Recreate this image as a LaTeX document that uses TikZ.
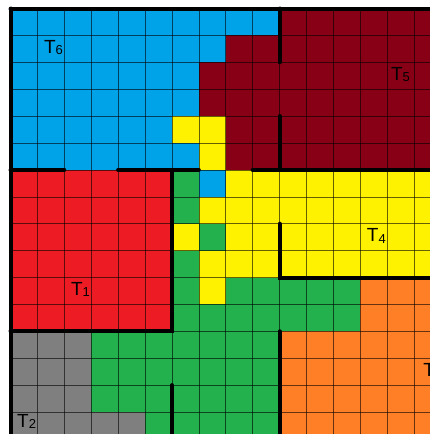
\documentclass[tikz,border=0pt]{standalone}
\usepackage{fontspec}
\setmainfont{Liberation Sans}
\definecolor{cB}{HTML}{00A2E8}
\definecolor{cD}{HTML}{880015}
\definecolor{cY}{HTML}{FFF200}
\definecolor{cR}{HTML}{ED1C24}
\definecolor{cG}{HTML}{22B14C}
\definecolor{cO}{HTML}{FF7F27}
\definecolor{cA}{HTML}{7F7F7F}
\newcommand{\tlab}[1]{T\raisebox{-1.5pt}{\fontsize{13}{13}\selectfont #1}}
\tikzset{
  gridline/.style={draw=black, draw opacity=0.6, line width=0.6pt},
  border/.style={draw=black, line width=4pt, line cap=round},
  lab/.style={inner sep=0pt, font=\fontsize{19}{19}\selectfont, text=black}
}
\begin{document}
\begin{tikzpicture}[x=1pt,y=-1pt]
\useasboundingbox (0,0) rectangle (430,434);
\clip (0,0) rectangle (430,434);
\fill[white] (0,0) rectangle (430,434);
\begin{scope}[shift={(10.5,8.5)}, x=26.9pt, y=-26.9pt]
  % cell runs: row/from/to/colour
  \foreach \r/\a/\b/\c in {
    0/0/10/cB, 0/10/16/cD,
    1/0/8/cB, 1/8/16/cD,
    2/0/7/cB, 2/7/16/cD,
    3/0/7/cB, 3/7/16/cD,
    4/0/6/cB, 4/6/8/cY, 4/8/16/cD,
    5/0/7/cB, 5/7/8/cY, 5/8/16/cD,
    6/0/6/cR, 6/6/7/cG, 6/7/8/cB, 6/8/16/cY,
    7/0/6/cR, 7/6/7/cG, 7/7/16/cY,
    8/0/6/cR, 8/6/7/cY, 8/7/8/cG, 8/8/16/cY,
    9/0/6/cR, 9/6/7/cG, 9/7/16/cY,
    10/0/6/cR, 10/6/7/cG, 10/7/8/cY, 10/8/13/cG, 10/13/16/cO,
    11/0/6/cR, 11/6/13/cG, 11/13/16/cO,
    12/0/3/cA, 12/3/10/cG, 12/10/16/cO,
    13/0/3/cA, 13/3/10/cG, 13/10/16/cO,
    14/0/3/cA, 14/3/10/cG, 14/10/16/cO,
    15/0/5/cA, 15/5/10/cG, 15/10/16/cO}
  {\fill[\c] (\a,\r) rectangle (\b,\r+1);}
  \foreach \k in {1,...,16} {
    \draw[gridline] (\k,0) -- (\k,16);
    \draw[gridline] (0,\k) -- (16,\k);
  }
  % thick boundaries
  \coordinate (p00) at (0,0);
  \coordinate (p160) at (16,0);
  \coordinate (p016) at (0,16);
  \draw[border] (p00) -- (p160);
  \draw[border] (p00) -- (p016);
  \draw[border] (10,0) -- (10,2);
  \draw[border] (10,4) -- (10,6);
  \draw[border] (0,6) -- (2,6);
  \draw[border] (4,6) -- (7,6);
  \draw[border] (9,6) -- (16,6);
  \draw[border] (6,6) -- (6,12) -- (0,12);
  \draw[border] (10,8) -- (10,10) -- (16,10);
  \draw[border] (10,12) -- (10,16);
  \draw[border] (6,14) -- (6,16);
  % labels
  \node[lab] (t6) at (1.6,1.45) {\tlab{6}};
  \node[lab] (t5) at (14.5,2.45) {\tlab{5}};
  \node[lab] (t4) at (13.6,8.45) {\tlab{4}};
  \node[lab] (t1) at (2.6,10.45) {\tlab{1}};
  \node[lab] (t2) at (0.6,15.35) {\tlab{2}};
  \node[lab] (t3) at (15.7,13.45) {\tlab{3}};
\end{scope}
\end{tikzpicture}
\end{document}
